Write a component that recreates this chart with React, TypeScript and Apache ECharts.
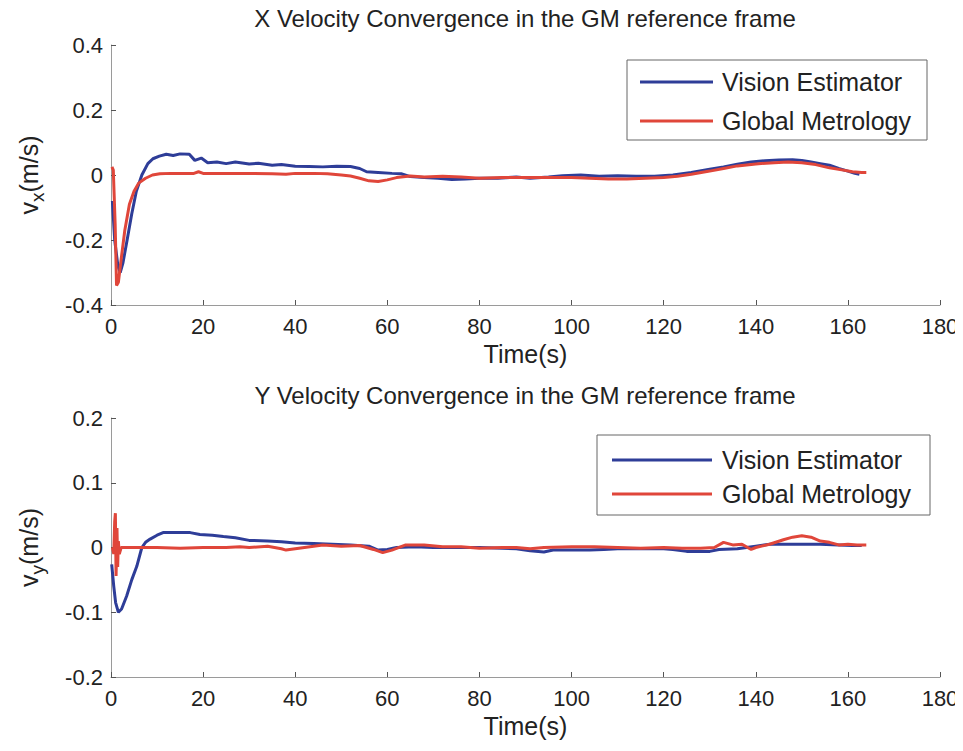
import React, { useEffect, useRef } from "react";
import * as echarts from "echarts";

// ---------- Data ----------
const xTicks = [0, 20, 40, 60, 80, 100, 120, 140, 160, 180];

// Top plot: X velocity (m/s)
const vxVisionT = [0.3, 0.8, 1.5, 2.0, 2.6, 3.5, 4.5, 5.5, 6.7, 8.0, 9.1, 10.5, 12, 13.5, 15, 17, 18.2, 19.6, 21, 23, 25, 27, 30, 32, 35, 37, 40, 43, 46, 49, 52, 54, 55.5, 58, 61, 63, 65, 68, 71, 74, 77, 80, 84, 88, 91, 95, 98, 102, 106, 110, 114, 118, 122, 126, 130, 133, 136, 139, 142, 145, 148, 150, 152, 154, 156, 158, 160, 161.5, 162.5];
const vxVisionV = [-0.08, -0.2, -0.28, -0.3, -0.27, -0.2, -0.12, -0.05, 0.0, 0.035, 0.05, 0.058, 0.064, 0.06, 0.065, 0.064, 0.045, 0.052, 0.038, 0.04, 0.035, 0.04, 0.034, 0.036, 0.03, 0.032, 0.027, 0.026, 0.025, 0.027, 0.026, 0.02, 0.01, 0.008, 0.005, 0.004, -0.005, -0.008, -0.01, -0.014, -0.012, -0.01, -0.01, -0.006, -0.01, -0.006, -0.002, 0.0, -0.004, -0.002, -0.004, -0.004, 0.0, 0.008, 0.018, 0.025, 0.033, 0.04, 0.044, 0.046, 0.047, 0.045, 0.04, 0.035, 0.03, 0.02, 0.012, 0.005, 0.002];

const vxMetrologyT = [0.2, 0.5, 0.9, 1.2, 1.6, 2.2, 3.0, 4.0, 5.0, 6.0, 7.5, 9.0, 10.6, 13, 16, 18, 19, 20, 25, 30, 35, 38, 40, 44, 47, 50, 52, 54, 56, 58, 60, 62, 65, 68, 72, 76, 80, 85, 90, 95, 100, 104, 108, 112, 116, 120, 123, 126, 130, 133, 136, 140, 144, 147, 150, 153, 156, 159, 161, 163, 164];
const vxMetrologyV = [0.025, 0.015, -0.15, -0.34, -0.33, -0.26, -0.17, -0.09, -0.05, -0.025, -0.01, 0.0, 0.004, 0.005, 0.005, 0.005, 0.01, 0.005, 0.005, 0.005, 0.004, 0.002, 0.005, 0.005, 0.004, 0.0, -0.003, -0.01, -0.018, -0.02, -0.015, -0.008, -0.003, -0.006, -0.004, -0.006, -0.01, -0.008, -0.008, -0.008, -0.008, -0.01, -0.012, -0.012, -0.01, -0.008, -0.004, 0.002, 0.012, 0.02, 0.028, 0.034, 0.038, 0.04, 0.038, 0.032, 0.022, 0.015, 0.01, 0.008, 0.008];

// Bottom plot: Y velocity (m/s)
const vyVisionT = [0.15, 0.6, 1.0, 1.6, 2.3, 3.4, 4.5, 5.6, 6.7, 7.5, 8.5, 10, 11.3, 14, 17.2, 19.3, 22, 24.4, 27, 30, 34, 37, 40, 44, 48, 52, 56, 58, 60, 62, 66, 70, 75, 80, 85, 88, 91, 94, 96, 100, 104, 107, 110, 115, 120, 122, 125, 130, 132, 136, 140, 143, 146, 150, 154, 158, 161, 163];
const vyVisionV = [-0.026, -0.06, -0.085, -0.1, -0.095, -0.075, -0.05, -0.029, 0.0, 0.008, 0.013, 0.019, 0.023, 0.023, 0.023, 0.02, 0.019, 0.017, 0.015, 0.011, 0.01, 0.009, 0.007, 0.006, 0.005, 0.004, 0.002, -0.004, -0.003, 0.0, 0.001, 0.0, 0.0, 0.0, -0.001, -0.002, -0.005, -0.007, -0.004, -0.004, -0.004, -0.003, -0.002, -0.002, -0.002, -0.003, -0.006, -0.006, -0.003, -0.002, 0.002, 0.005, 0.005, 0.005, 0.005, 0.004, 0.003, 0.003];

const vyMetrologyT = [0.3, 0.6, 0.8, 0.95, 1.1, 1.3, 1.45, 1.6, 1.8, 2.2, 5, 10, 15, 20, 25, 28, 30, 34, 37, 38, 40, 42, 46, 50, 54, 57, 59, 61, 64, 68, 72, 76, 80, 85, 88, 91, 94, 100, 105, 110, 115, 120, 124, 128, 131, 133, 135, 137, 139, 140, 143, 146, 148, 150, 152, 154, 156, 158, 160, 162, 164];
const vyMetrologyV = [0.0, -0.01, 0.04, 0.053, -0.044, 0.03, -0.03, 0.01, -0.01, 0.0, 0.0, 0.0, -0.001, 0.0, 0.0, 0.001, 0.0, 0.002, -0.002, -0.004, -0.002, 0.0, 0.004, 0.002, 0.003, -0.003, -0.008, -0.004, 0.004, 0.004, 0.001, 0.001, -0.001, 0.0, 0.0, -0.002, 0.0, 0.001, 0.001, 0.0, -0.001, 0.0, -0.001, -0.001, 0.0, 0.008, 0.004, 0.005, -0.003, 0.0, 0.005, 0.012, 0.016, 0.018, 0.016, 0.01, 0.008, 0.004, 0.005, 0.004, 0.004];

const seriesNames = ["Vision Estimator", "Global Metrology"];
const titles = [
  "X Velocity Convergence in the GM reference frame",
  "Y Velocity Convergence in the GM reference frame",
];

// ---------- Styling ----------
const BLUE = "#2e3d98";
const RED = "#e0463a";
const FONT = "'Liberation Sans', Arial, Helvetica, sans-serif";
const TXT = "#222";
const AXIS = "#9a9a9a";

const zip = (t: number[], v: number[]) => t.map((x, i) => [x, v[i]]);

export default function App() {
  const ref = useRef<HTMLDivElement>(null);

  useEffect(() => {
    if (!ref.current) return;
    const chart = echarts.init(ref.current, undefined, { renderer: "svg" });

    const xAxisBase = (gridIndex: number) => ({
      type: "value" as const,
      gridIndex,
      min: xTicks[0],
      max: xTicks[xTicks.length - 1],
      interval: xTicks[1] - xTicks[0],
      name: "Time(s)",
      nameLocation: "middle" as const,
      nameGap: 36,
      nameTextStyle: { fontFamily: FONT, fontSize: 25, color: TXT },
      axisLine: { show: true, onZero: false, lineStyle: { color: AXIS, width: 1 } },
      axisTick: { show: true, inside: true, length: 5, lineStyle: { color: "#555" } },
      axisLabel: { fontFamily: FONT, fontSize: 22, color: TXT, margin: 10 },
      splitLine: { show: false },
    });

    const yAxisBase = (gridIndex: number, min: number, max: number, interval: number, sub: string) => ({
      type: "value" as const,
      gridIndex,
      min,
      max,
      interval,
      name: `{v|v}{s|${sub}}{v|(m/s)}`,
      nameLocation: "middle" as const,
      nameRotate: 90,
      nameGap: 68,
      nameTextStyle: {
        fontFamily: FONT,
        color: TXT,
        rich: {
          v: { fontFamily: FONT, fontSize: 25, color: TXT, lineHeight: 28 },
          s: { fontFamily: FONT, fontSize: 19, color: TXT, lineHeight: 28, padding: [16, 0, 0, 0] },
        },
      },
      axisLine: { show: true, onZero: false, lineStyle: { color: AXIS, width: 1 } },
      axisTick: { show: true, inside: true, length: 5, lineStyle: { color: "#555" } },
      axisLabel: {
        fontFamily: FONT,
        fontSize: 22,
        color: TXT,
        margin: 8,
        formatter: (v: number) => (Math.abs(v) < 1e-9 ? "0" : String(parseFloat(v.toFixed(2)))),
      },
      splitLine: { show: false },
    });

    const lineSeries = (name: string, data: number[][], color: string, idx: number) => ({
      type: "line" as const,
      name,
      data,
      xAxisIndex: idx,
      yAxisIndex: idx,
      showSymbol: false,
      symbol: "none",
      lineStyle: { color, width: 3 },
      itemStyle: { color },
      z: name === seriesNames[1] ? 3 : 2,
    });

    const legend = (x: number, y: number, w: number, h: number, lx0: number, lx1: number, ty1: number, ty2: number) => [
      {
        type: "rect",
        shape: { x, y, width: w, height: h },
        style: { fill: "#fff", stroke: "#666", lineWidth: 1 },
        z: 10,
      },
      { type: "line", shape: { x1: lx0, y1: ty1, x2: lx1, y2: ty1 }, style: { stroke: BLUE, lineWidth: 3 }, z: 11 },
      { type: "line", shape: { x1: lx0, y1: ty2, x2: lx1, y2: ty2 }, style: { stroke: RED, lineWidth: 3 }, z: 11 },
      {
        type: "text",
        x: 722,
        y: ty1,
        style: { text: seriesNames[0], font: `25px ${FONT}`, fill: TXT, textVerticalAlign: "middle", verticalAlign: "middle" },
        z: 11,
      },
      {
        type: "text",
        x: 722,
        y: ty2,
        style: { text: seriesNames[1], font: `25px ${FONT}`, fill: TXT, textVerticalAlign: "middle", verticalAlign: "middle" },
        z: 11,
      },
    ];

    const titleText = (text: string, y: number) => ({
      type: "text",
      x: 525,
      y,
      style: {
        text,
        font: `24px ${FONT}`,
        fill: TXT,
        align: "center",
        verticalAlign: "middle",
        textAlign: "center",
        textVerticalAlign: "middle",
      },
    });

    chart.setOption({
      animation: false,
      backgroundColor: "#fff",
      grid: [
        { left: 111, top: 45, width: 829, height: 260 },
        { left: 111, top: 418, width: 829, height: 259 },
      ],
      xAxis: [xAxisBase(0), xAxisBase(1)],
      yAxis: [yAxisBase(0, -0.4, 0.4, 0.2, "x"), yAxisBase(1, -0.2, 0.2, 0.1, "y")],
      series: [
        lineSeries(seriesNames[0], zip(vxVisionT, vxVisionV), BLUE, 0),
        lineSeries(seriesNames[1], zip(vxMetrologyT, vxMetrologyV), RED, 0),
        lineSeries(seriesNames[0], zip(vyVisionT, vyVisionV), BLUE, 1),
        lineSeries(seriesNames[1], zip(vyMetrologyT, vyMetrologyV), RED, 1),
      ],
      graphic: [
        titleText(titles[0], 18),
        titleText(titles[1], 395),
        ...legend(627, 60, 300, 80, 640, 713, 82, 121),
        ...legend(597, 435, 333, 80, 612, 712, 460, 494),
      ],
    });

    return () => chart.dispose();
  }, []);

  return <div ref={ref} style={{ width: 963, height: 751, margin: -8 }} />;
}
